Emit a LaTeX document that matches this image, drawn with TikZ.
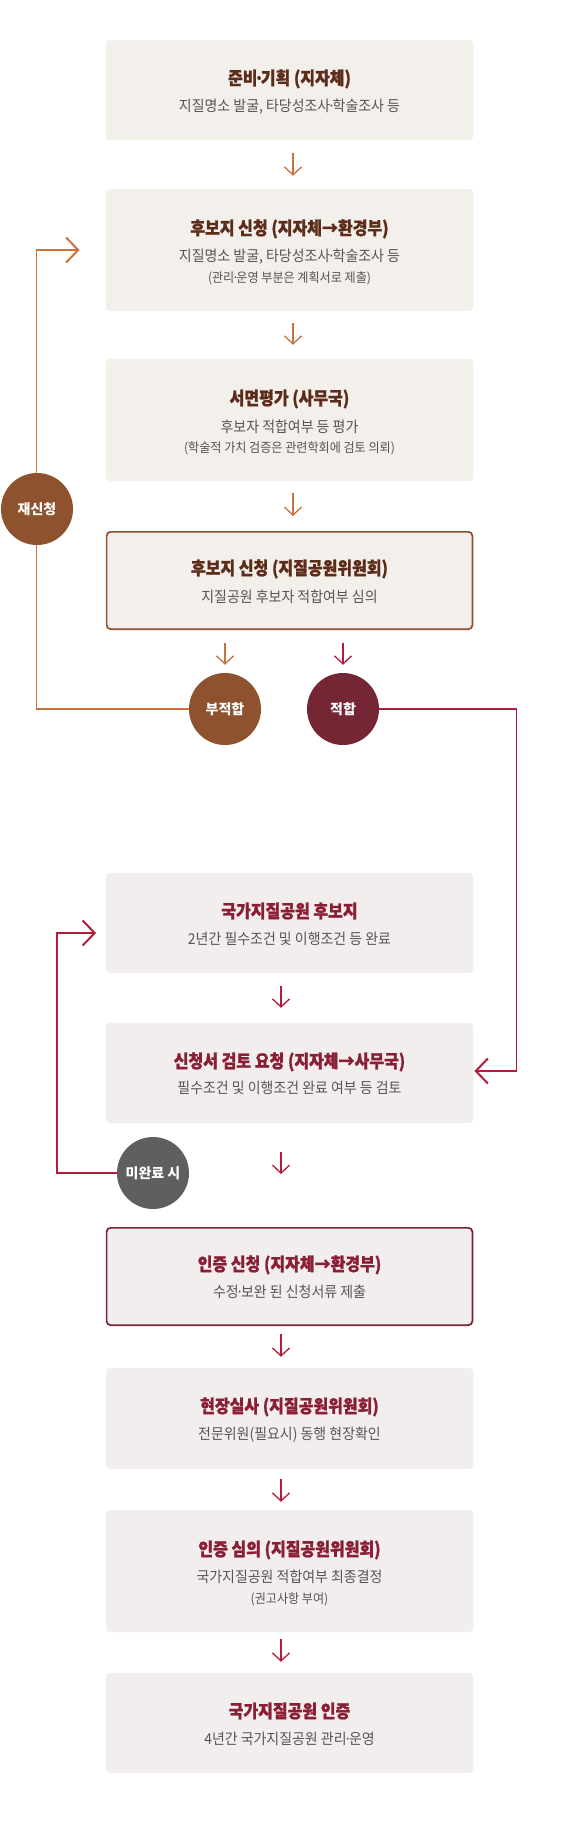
\documentclass[tikz,border=0pt]{standalone}
\usepackage{fontspec}
\usetikzlibrary{arrows.meta}
\newfontfamily\krtitle{Noto Sans CJK KR}[FakeStretch=0.89,BoldFeatures={FakeBold=1}]
\newfontfamily\krtext{Noto Sans CJK KR}[FakeStretch=0.93]
\newfontfamily\krcirc{Noto Sans CJK KR}
\newcommand{\mdt}{\kern-0.18em·\kern-0.18em}
\definecolor{boxA}{HTML}{F3EFEA}
\definecolor{boxB}{HTML}{F3EEEE}
\definecolor{titA}{HTML}{5C2B19}
\definecolor{titB}{HTML}{8A1E34}
\definecolor{subt}{HTML}{555555}
\definecolor{orA}{HTML}{C8723D}
\definecolor{redB}{HTML}{B41C3B}
\definecolor{brownC}{HTML}{8E522E}
\definecolor{wineC}{HTML}{742635}
\definecolor{greyC}{HTML}{5F5F5F}
\tikzset{
  stepbox/.style={rectangle, rounded corners=4pt, inner sep=0pt, minimum width=367.5pt},
  boxtop/.style={stepbox, fill=boxA},
  boxbot/.style={stepbox, fill=boxB},
  ttl/.style={anchor=base, inner sep=0pt, font=\krtitle\bfseries\fontsize{18}{20}\selectfont},
  ttla/.style={ttl, text=titA},
  ttlb/.style={ttl, text=titB},
  sub/.style={anchor=base, inner sep=0pt, text=subt, font=\krtext\fontsize{15}{17}\selectfont},
  small/.style={anchor=base, inner sep=0pt, text=subt, font=\krtext\fontsize{13}{15}\selectfont},
  badge/.style={circle, minimum size=72pt, inner sep=0pt, text=white, font=\krcirc\bfseries\fontsize{14}{16}\selectfont},
  sarr/.style={line width=1.3pt, -{Straight Barb[length=8pt,width=17pt]}},
  larr/.style={line width=1.5pt, -{Straight Barb[length=12pt,width=25pt,line width=2pt]}}
}
\begin{document}
\begin{tikzpicture}[x=1pt,y=-1pt]
\useasboundingbox (0,0) rectangle (578,1842);
% boxes
\node[boxtop, minimum height=100pt] (b1) at (289.5,90) {};
\node[boxtop, minimum height=122pt] (b2) at (289.5,250) {};
\node[boxtop, minimum height=122pt] (b3) at (289.5,420) {};
\node[boxtop, draw=brownC, line width=1.7pt, minimum width=365.8pt, minimum height=97.3pt] (b4) at (289.5,580.5) {};
\node[boxbot, minimum height=100pt] (b5) at (289.5,923) {};
\node[boxbot, minimum height=100pt] (b6) at (289.5,1073) {};
\node[boxbot, draw=wineC, line width=1.7pt, minimum width=365.8pt, minimum height=97.3pt] (b7) at (289.5,1276.5) {};
\node[boxbot, minimum height=101pt] (b8) at (289.5,1418.5) {};
\node[boxbot, minimum height=122pt] (b9) at (289.5,1571) {};
\node[boxbot, minimum height=100pt] (b10) at (289.5,1723) {};
% texts
\node[ttla] (t1) at (289.5,84.7) {준비\mdt 기획 (지자체)};
\node[sub] (s1) at (289.5,111.6) {지질명소 발굴, 타당성조사\mdt 학술조사 등};
\node[ttla] (t2) at (289.5,234.7) {후보지 신청 (지자체→환경부)};
\node[sub] (s2) at (289.5,261.6) {지질명소 발굴, 타당성조사\mdt 학술조사 등};
\node[small] (r2) at (289.5,282.8) {(관리\mdt 운영 부분은 계획서로 제출)};
\node[ttla] (t3) at (289.5,404.7) {서면평가 (사무국)};
\node[sub] (s3) at (289.5,432.6) {후보자 적합여부 등 평가};
\node[small] (r3) at (289.5,452.8) {(학술적 가치 검증은 관련학회에 검토 의뢰)};
\node[ttla] (t4) at (289.5,574.7) {후보지 신청 (지질공원위원회)};
\node[sub] (s4) at (289.5,602.6) {지질공원 후보자 적합여부 심의};
\node[ttlb] (t5) at (289.5,917.7) {국가지질공원 후보지};
\node[sub] (s5) at (289.5,944.6) {2년간 필수조건 및 이행조건 등 완료};
\node[ttlb] (t6) at (289.5,1067.7) {신청서 검토 요청 (지자체→사무국)};
\node[sub] (s6) at (289.5,1093.6) {필수조건 및 이행조건 완료 여부 등 검토};
\node[ttlb] (t7) at (289.5,1270.7) {인증 신청 (지자체→환경부)};
\node[sub] (s7) at (289.5,1297.6) {수정\mdt 보완 된 신청서류 제출};
\node[ttlb] (t8) at (289.5,1412.7) {현장실사 (지질공원위원회)};
\node[sub] (s8) at (289.5,1439.6) {전문위원(필요시) 동행 현장확인};
\node[ttlb] (t9) at (289.5,1555.7) {인증 심의 (지질공원위원회)};
\node[sub] (s9) at (289.5,1582.6) {국가지질공원 적합여부 최종결정};
\node[small] (r9) at (289.5,1603.8) {(권고사항 부여)};
\node[ttlb] (t10) at (289.5,1717.7) {국가지질공원 인증};
\node[sub] (s10) at (289.5,1744.6) {4년간 국가지질공원 관리\mdt 운영};
% loop lines (drawn before badges)
\coordinate (nbw) at (189,709);
\coordinate (jke) at (379,709);
\coordinate (miw) at (117,1173);
\draw[larr, draw=orA] (nbw) -| ([xshift=-69pt]b2.west) -- ([xshift=-26pt]b2.west);
\draw[larr, draw=redB] (jke) -| ([xshift=43pt,yshift=2pt]b6.east) -- ([xshift=1pt,yshift=2pt]b6.east);
\draw[larr, draw=redB] (miw) -| ([xshift=-48.5pt,yshift=-10pt]b5.west) -- ([xshift=-9.5pt,yshift=-10pt]b5.west);
% badges
\node[badge, fill=brownC] (re) at (37,509) {재신청};
\node[badge, fill=brownC] (nb) at (225,709) {부적합};
\node[badge, fill=wineC] (jk) at (343,709) {적합};
\node[badge, fill=greyC] (mi) at (153,1173) {미완료 시};
% vertical arrows
\draw[sarr, draw=orA] ([xshift=3.5pt,yshift=-13pt]b1.south) -- ([xshift=3.5pt,yshift=13pt]b2.north);
\draw[sarr, draw=orA] ([xshift=3.5pt,yshift=-12pt]b2.south) -- ([xshift=3.5pt,yshift=14pt]b3.north);
\draw[sarr, draw=orA] ([xshift=3.5pt,yshift=-12pt]b3.south) -- ([xshift=3.5pt,yshift=15pt]b4.north);
\draw[sarr, draw=orA] ([yshift=-13pt]b4.south -| nb.north) -- ([yshift=8pt]nb.north);
\draw[sarr, draw=redB] ([yshift=-13pt]b4.south -| jk.north) -- ([yshift=8pt]jk.north);
\draw[sarr, draw=redB] ([xshift=-8.5pt,yshift=-13pt]b5.south) -- ([xshift=-8.5pt,yshift=15pt]b6.north);
\draw[sarr, draw=redB] ([xshift=-8.5pt,yshift=-29pt]b6.south) -- ([xshift=-8.5pt,yshift=53pt]b7.north);
\draw[sarr, draw=redB] ([xshift=-8.5pt,yshift=-8pt]b7.south) -- ([xshift=-8.5pt,yshift=11pt]b8.north);
\draw[sarr, draw=redB] ([xshift=-8.5pt,yshift=-10pt]b8.south) -- ([xshift=-8.5pt,yshift=8pt]b9.north);
\draw[sarr, draw=redB] ([xshift=-8.5pt,yshift=-7pt]b9.south) -- ([xshift=-8.5pt,yshift=11pt]b10.north);
\end{tikzpicture}
\end{document}
